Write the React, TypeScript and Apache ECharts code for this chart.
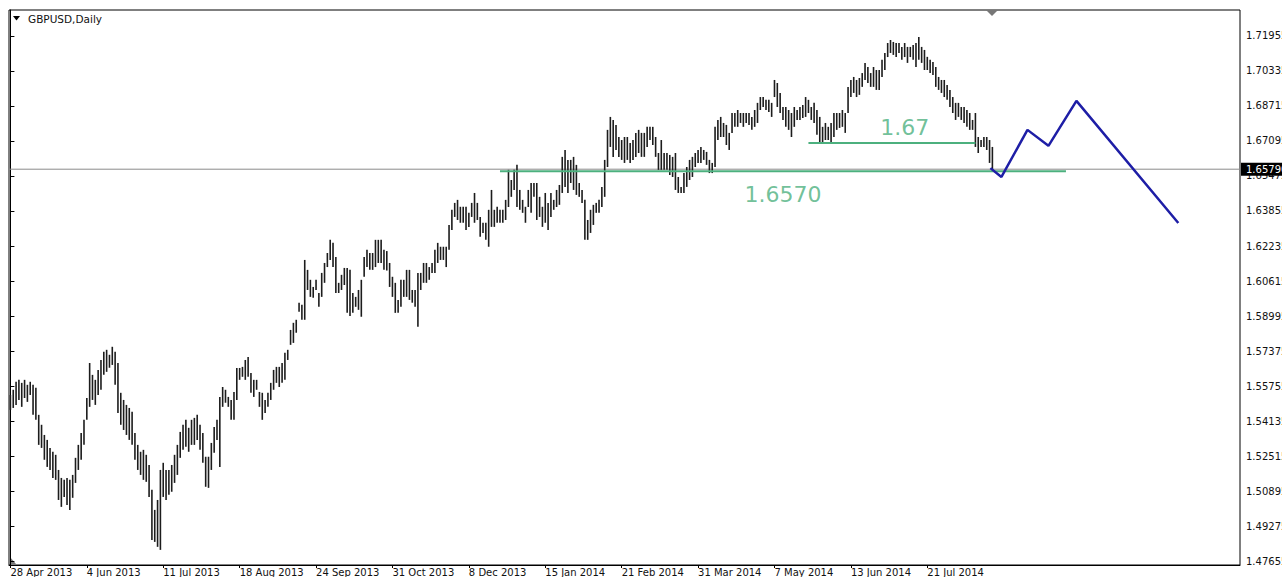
import React, { useEffect, useRef } from "react";
import * as echarts from "echarts";

const dateLabels = ["28 Apr 2013", "4 Jun 2013", "11 Jul 2013", "18 Aug 2013", "24 Sep 2013", "31 Oct 2013", "8 Dec 2013", "15 Jan 2014", "21 Feb 2014", "31 Mar 2014", "7 May 2014", "13 Jun 2014", "21 Jul 2014"];
const dateLabelIdx = [0, 27, 54, 81, 108, 135, 162, 189, 216, 243, 270, 297, 324];
const priceTicks = [1.47655, 1.49275, 1.50895, 1.52515, 1.54135, 1.55755, 1.57375, 1.58995, 1.60615, 1.62235, 1.63855, 1.65475, 1.67095, 1.68715, 1.70335, 1.71955];

const highs = [
  1.5534, 1.5558, 1.5595, 1.5604, 1.5590, 1.5604, 1.5581, 1.5595, 1.5581, 1.5567,
  1.5442, 1.5396, 1.5349, 1.5326, 1.5289, 1.5271, 1.5257, 1.5187, 1.5150, 1.5141,
  1.5150, 1.5141, 1.5164, 1.5243, 1.5303, 1.5358, 1.5419, 1.5520, 1.5682, 1.5627,
  1.5604, 1.5650, 1.5696, 1.5734, 1.5743, 1.5720, 1.5757, 1.5734, 1.5682, 1.5544,
  1.5511, 1.5488, 1.5474, 1.5456, 1.5358, 1.5303, 1.5271, 1.5280, 1.5257, 1.5210,
  1.5095, 1.5002, 1.5048, 1.5187, 1.5220, 1.5187, 1.5187, 1.5210, 1.5257, 1.5303,
  1.5363, 1.5396, 1.5419, 1.5382, 1.5419, 1.5428, 1.5442, 1.5396, 1.5358, 1.5248,
  1.5248, 1.5312, 1.5386, 1.5419, 1.5525, 1.5571, 1.5558, 1.5525, 1.5511, 1.5548,
  1.5659, 1.5659, 1.5664, 1.5696, 1.5710, 1.5636, 1.5604, 1.5604, 1.5548, 1.5544,
  1.5511, 1.5544, 1.5590, 1.5650, 1.5664, 1.5664, 1.5682, 1.5729, 1.5743, 1.5835,
  1.5868, 1.5882, 1.5961, 1.5951, 1.6159, 1.6113, 1.6067, 1.6034, 1.6067, 1.6006,
  1.6099, 1.6145, 1.6191, 1.6252, 1.6238, 1.6173, 1.6053, 1.6090, 1.6122, 1.6122,
  1.6113, 1.6006, 1.5988, 1.6020, 1.6067, 1.6173, 1.6206, 1.6191, 1.6191, 1.6252,
  1.6252, 1.6252, 1.6206, 1.6200, 1.6145, 1.6081, 1.6053, 1.5974, 1.6067, 1.6067,
  1.6113, 1.6113, 1.6020, 1.6020, 1.6099, 1.6099, 1.6145, 1.6145, 1.6126, 1.6145,
  1.6206, 1.6238, 1.6220, 1.6220, 1.6220, 1.6321, 1.6391, 1.6423, 1.6437, 1.6405,
  1.6405, 1.6405, 1.6377, 1.6423, 1.6469, 1.6423, 1.6358, 1.6331, 1.6331, 1.6391,
  1.6483, 1.6391, 1.6405, 1.6391, 1.6391, 1.6437, 1.6576, 1.6529, 1.6576, 1.6599,
  1.6483, 1.6437, 1.6405, 1.6483, 1.6515, 1.6515, 1.6515, 1.6451, 1.6405, 1.6469,
  1.6423, 1.6469, 1.6437, 1.6483, 1.6506, 1.6636, 1.6668, 1.6622, 1.6622, 1.6636,
  1.6599, 1.6515, 1.6483, 1.6437, 1.6344, 1.6391, 1.6414, 1.6423, 1.6437, 1.6497,
  1.6622, 1.6761, 1.6821, 1.6807, 1.6784, 1.6728, 1.6714, 1.6728, 1.6728, 1.6700,
  1.6714, 1.6747, 1.6761, 1.6747, 1.6747, 1.6775, 1.6775, 1.6775, 1.6728, 1.6654,
  1.6714, 1.6654, 1.6654, 1.6645, 1.6636, 1.6654, 1.6543, 1.6497, 1.6561, 1.6589,
  1.6622, 1.6636, 1.6654, 1.6668, 1.6682, 1.6668, 1.6659, 1.6622, 1.6608, 1.6775,
  1.6807, 1.6821, 1.6793, 1.6784, 1.6747, 1.6839, 1.6839, 1.6853, 1.6839, 1.6839,
  1.6839, 1.6839, 1.6821, 1.6853, 1.6886, 1.6913, 1.6913, 1.6900, 1.6900, 1.6886,
  1.6992, 1.6978, 1.6932, 1.6867, 1.6867, 1.6853, 1.6839, 1.6867, 1.6853, 1.6867,
  1.6876, 1.6913, 1.6900, 1.6867, 1.6886, 1.6853, 1.6821, 1.6775, 1.6793, 1.6775,
  1.6793, 1.6839, 1.6839, 1.6839, 1.6853, 1.6839, 1.6960, 1.6992, 1.7006, 1.6992,
  1.7001, 1.7024, 1.7071, 1.7052, 1.7024, 1.7052, 1.7038, 1.7038, 1.7085, 1.7117,
  1.7163, 1.7177, 1.7168, 1.7163, 1.7163, 1.7145, 1.7163, 1.7145, 1.7145, 1.7154,
  1.7163, 1.7191, 1.7145, 1.7131, 1.7099, 1.7085, 1.7075, 1.7052, 1.7006, 1.6992,
  1.6992, 1.6969, 1.6946, 1.6913, 1.6886, 1.6886, 1.6867, 1.6867, 1.6853, 1.6839,
  1.6807, 1.6839, 1.6728, 1.6714, 1.6728, 1.6728, 1.6714, 1.6682,
];

const lows = [
  1.5465, 1.5474, 1.5488, 1.5511, 1.5479, 1.5520, 1.5502, 1.5534, 1.5442, 1.5419,
  1.5303, 1.5289, 1.5234, 1.5201, 1.5187, 1.5150, 1.5141, 1.5048, 1.5016, 1.5062,
  1.5025, 1.5002, 1.5058, 1.5127, 1.5187, 1.5234, 1.5303, 1.5419, 1.5479, 1.5511,
  1.5488, 1.5534, 1.5558, 1.5627, 1.5641, 1.5660, 1.5673, 1.5581, 1.5451, 1.5396,
  1.5372, 1.5349, 1.5326, 1.5303, 1.5234, 1.5187, 1.5164, 1.5141, 1.5132, 1.5062,
  1.4863, 1.4854, 1.4831, 1.4817, 1.5062, 1.5048, 1.5072, 1.5086, 1.5127, 1.5164,
  1.5243, 1.5280, 1.5294, 1.5271, 1.5303, 1.5303, 1.5326, 1.5280, 1.5220, 1.5109,
  1.5104, 1.5187, 1.5266, 1.5326, 1.5201, 1.5479, 1.5498, 1.5479, 1.5419, 1.5419,
  1.5511, 1.5604, 1.5618, 1.5604, 1.5618, 1.5544, 1.5525, 1.5558, 1.5479, 1.5419,
  1.5451, 1.5479, 1.5511, 1.5558, 1.5590, 1.5571, 1.5590, 1.5604, 1.5696, 1.5766,
  1.5775, 1.5822, 1.5919, 1.5882, 1.5882, 1.6020, 1.5988, 1.5984, 1.6020, 1.5942,
  1.5988, 1.6053, 1.6126, 1.6159, 1.6126, 1.6006, 1.6006, 1.6020, 1.6043, 1.5914,
  1.5900, 1.5914, 1.5942, 1.5928, 1.5896, 1.6081, 1.6126, 1.6113, 1.6113, 1.6126,
  1.6145, 1.6145, 1.6113, 1.6110, 1.6034, 1.5988, 1.5914, 1.5914, 1.5942, 1.5988,
  1.5988, 1.5974, 1.5961, 1.5942, 1.5850, 1.6020, 1.6053, 1.6053, 1.6067, 1.6099,
  1.6099, 1.6145, 1.6159, 1.6159, 1.6126, 1.6206, 1.6298, 1.6358, 1.6344, 1.6331,
  1.6331, 1.6298, 1.6312, 1.6358, 1.6331, 1.6344, 1.6266, 1.6284, 1.6252, 1.6220,
  1.6312, 1.6312, 1.6331, 1.6331, 1.6331, 1.6344, 1.6404, 1.6451, 1.6483, 1.6404,
  1.6391, 1.6377, 1.6331, 1.6404, 1.6377, 1.6451, 1.6344, 1.6358, 1.6312, 1.6331,
  1.6298, 1.6358, 1.6391, 1.6404, 1.6414, 1.6469, 1.6497, 1.6469, 1.6515, 1.6483,
  1.6460, 1.6451, 1.6423, 1.6252, 1.6252, 1.6284, 1.6321, 1.6377, 1.6377, 1.6404,
  1.6451, 1.6589, 1.6682, 1.6636, 1.6668, 1.6636, 1.6622, 1.6608, 1.6622, 1.6608,
  1.6622, 1.6636, 1.6654, 1.6636, 1.6636, 1.6682, 1.6714, 1.6691, 1.6636, 1.6576,
  1.6576, 1.6576, 1.6576, 1.6552, 1.6543, 1.6483, 1.6469, 1.6469, 1.6469, 1.6497,
  1.6529, 1.6543, 1.6589, 1.6608, 1.6608, 1.6622, 1.6599, 1.6561, 1.6561, 1.6589,
  1.6714, 1.6728, 1.6728, 1.6691, 1.6668, 1.6747, 1.6775, 1.6775, 1.6793, 1.6775,
  1.6793, 1.6784, 1.6761, 1.6775, 1.6793, 1.6853, 1.6867, 1.6853, 1.6844, 1.6821,
  1.6913, 1.6867, 1.6839, 1.6807, 1.6775, 1.6761, 1.6728, 1.6775, 1.6807, 1.6807,
  1.6816, 1.6821, 1.6839, 1.6807, 1.6793, 1.6738, 1.6700, 1.6700, 1.6714, 1.6714,
  1.6700, 1.6728, 1.6761, 1.6770, 1.6775, 1.6747, 1.6839, 1.6913, 1.6932, 1.6913,
  1.6923, 1.6960, 1.6992, 1.6978, 1.6960, 1.6960, 1.6946, 1.6946, 1.7006, 1.7038,
  1.7098, 1.7117, 1.7108, 1.7098, 1.7117, 1.7085, 1.7098, 1.7071, 1.7098, 1.7085,
  1.7052, 1.7085, 1.7071, 1.7038, 1.7038, 1.7024, 1.7015, 1.6960, 1.6946, 1.6932,
  1.6913, 1.6900, 1.6867, 1.6839, 1.6807, 1.6821, 1.6807, 1.6793, 1.6775, 1.6761,
  1.6761, 1.6682, 1.6654, 1.6682, 1.6682, 1.6668, 1.6608, 1.6576,
];

const currentPrice = 1.6579;
const currentPriceText = "1.65790";
const supportPrice = 1.657;
const supportFromIdx = 173;
const supportToIdx = 373;
const resistPrice = 1.67;
const resistFromIdx = 282;
const resistToIdx = 341;

const projIdx = [346.3, 350.2, 359.4, 366.8, 376.7, 412.7];
const projPrice = [1.6584, 1.6543, 1.6761, 1.6687, 1.6895, 1.6330];

const noteTexts = ["1.6570", "1.67"];
const noteIdx = [273, 316];
const notePrice = [1.6460, 1.6774];

const X_MIN = -0.5;
const X_MAX = 434.5;

const FONT = "DejaVu Sans";
const GREEN = "#4cb07e";

export default function App() {
  const ref = useRef<HTMLDivElement>(null);

  useEffect(() => {
    if (!ref.current) return;
    const chart = echarts.init(ref.current, null, { renderer: "svg" });
    const bars = highs.map((h, i) => [i, h, lows[i]]);

    chart.setOption({
      animation: false,
      backgroundColor: "#ffffff",
      grid: {
        left: 9,
        right: 42,
        top: 10,
        bottom: 12,
        show: true,
        borderColor: "#000",
        borderWidth: 1,
        containLabel: false,
        outerBoundsMode: "none",
      },
      xAxis: {
        type: "value",
        min: X_MIN,
        max: X_MAX,
        splitLine: { show: false },
        axisLine: { show: true, onZero: false, lineStyle: { color: "#000", width: 1 } },
        axisTick: { show: true, customValues: dateLabelIdx, length: 3, lineStyle: { color: "#000" } },
        axisLabel: {
          customValues: dateLabelIdx,
          formatter: (v: number) => {
            const k = dateLabelIdx.indexOf(Math.round(v));
            return k >= 0 ? dateLabels[k] : "";
          },
          align: "left",
          margin: 2,
          fontSize: 10,
          fontFamily: FONT,
          color: "#111",
        },
      },
      yAxis: {
        type: "value",
        position: "right",
        min: 1.474699,
        max: 1.731584,
        scale: true,
        splitLine: { show: false },
        axisLine: { show: true, lineStyle: { color: "#000", width: 1 } },
        axisTick: { show: true, customValues: priceTicks, length: 4, lineStyle: { color: "#000" } },
        axisLabel: {
          customValues: priceTicks,
          formatter: (v: number) => v.toFixed(5),
          margin: 6,
          fontSize: 10,
          fontFamily: FONT,
          color: "#111",
        },
      },
      graphic: [
        { type: "polygon", shape: { points: [[13, 16], [20, 16], [16.5, 20.5]] }, style: { fill: "#000" } },
        { type: "text", x: 28, y: 13, style: { text: "GBPUSD,Daily", fontSize: 10.5, fontFamily: FONT, fill: "#111" } },
        { type: "polygon", shape: { points: [[986, 10], [998, 10], [992, 16]] }, style: { fill: "#777" } },
        { type: "polygon", shape: { points: [[10, 557], [10, 564], [16, 564]] }, style: { fill: "#777" } },
      ],
      series: [
        {
          type: "line",
          silent: true,
          symbol: "none",
          clip: false,
          data: [[X_MIN, currentPrice], [X_MAX, currentPrice]],
          lineStyle: { color: "#8a8a8a", width: 1 },
          endLabel: {
            show: true,
            formatter: currentPriceText,
            backgroundColor: "#000",
            color: "#fff",
            fontSize: 10,
            fontFamily: FONT,
            padding: [2, 4, 1, 5],
            distance: 1,
          },
          z: 1,
        },
        {
          type: "custom",
          silent: true,
          encode: { x: 0, y: [1, 2] },
          data: bars,
          renderItem: (_params: any, api: any) => {
            const x = api.value(0);
            const top = api.coord([x, api.value(1)]);
            const bot = api.coord([x, api.value(2)]);
            return {
              type: "line",
              shape: { x1: top[0], y1: top[1], x2: bot[0], y2: bot[1] },
              style: { stroke: "#1c1c1c", lineWidth: 1.6 },
            };
          },
          z: 2,
        },
        {
          type: "line",
          silent: true,
          symbol: "none",
          data: [[supportFromIdx, supportPrice], [supportToIdx, supportPrice]],
          lineStyle: { color: GREEN, width: 2 },
          z: 3,
        },
        {
          type: "line",
          silent: true,
          symbol: "none",
          data: [[resistFromIdx, resistPrice], [resistToIdx, resistPrice]],
          lineStyle: { color: GREEN, width: 2 },
          z: 3,
        },
        {
          type: "line",
          silent: true,
          symbol: "none",
          data: projIdx.map((x, i) => [x, projPrice[i]]),
          lineStyle: { color: "#1e1ea6", width: 2.5 },
          z: 4,
        },
        {
          type: "scatter",
          silent: true,
          symbolSize: 0,
          data: noteIdx.map((x, i) => ({ value: [x, notePrice[i]], name: noteTexts[i] })),
          label: {
            show: true,
            position: "inside",
            formatter: (p: any) => p.name,
            fontSize: 22,
            fontFamily: FONT,
            color: GREEN,
          },
          z: 5,
        },
      ],
    });

    return () => chart.dispose();
  }, []);

  return (
    <div
      ref={ref}
      style={{ position: "absolute", left: 0, top: 0, width: 1282, height: 577, background: "#fff" }}
    />
  );
}
